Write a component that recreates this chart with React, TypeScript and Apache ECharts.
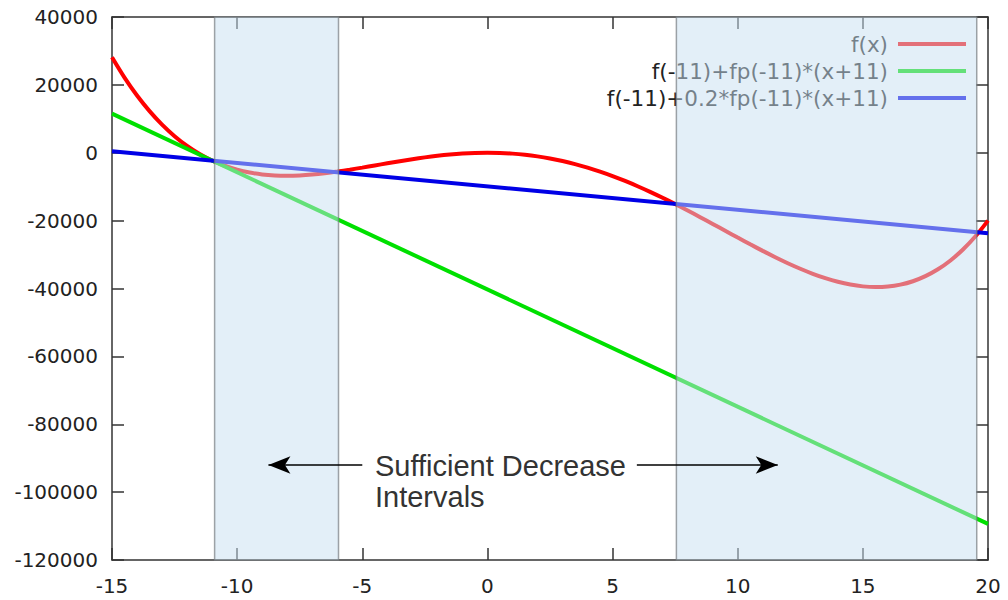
import React, { useEffect, useRef } from "react";
import * as echarts from "echarts";

// x samples and f(x) values
const xs = [
  -15, -14.5, -14, -13.5, -13, -12.5, -12, -11.5, -11, -10.5, -10, -9.5, -9, -8.5, -8, -7.5, -7, -6.5, -6, -5.5,
  -5, -4.5, -4, -3.5, -3, -2.5, -2, -1.5, -1, -0.5, 0, 0.5, 1, 1.5, 2, 2.5, 3, 3.5, 4, 4.5,
  5, 5.5, 6, 6.5, 7, 7.5, 8, 8.5, 9, 9.5, 10, 10.5, 11, 11.5, 12, 12.5, 13, 13.5, 14, 14.5,
  15, 15.5, 16, 16.5, 17, 17.5, 18, 18.5, 19, 19.5, 20,
];
const fVals = [
  28125, 22129, 16856, 12256, 8281, 4883, 2016, -364, -2299, -3831, -5000, -5844, -6399, -6701, -6784, -6680, -6419, -6031, -5544, -4984,
  -4375, -3741, -3104, -2484, -1899, -1367, -904, -524, -239, -61, 0, -64, -259, -591, -1064, -1680, -2439, -3341, -4384, -5564,
  -6875, -8311, -9864, -11524, -13279, -15117, -17024, -18984, -20979, -22991, -25000, -26984, -28919, -30781, -32544, -34180, -35659, -36951, -38024, -38844,
  -39375, -39581, -39424, -38864, -37859, -36367, -34344, -31744, -28519, -24621, -20000,
];

// tangent line endpoints
const lineX = [-15, 20];
const tangentVals = [11517, -109373];
const relaxedVals = [464, -23714];

const seriesNames = ["f(x)", "f(-11)+fp(-11)*(x+11)", "f(-11)+0.2*fp(-11)*(x+11)"];
const seriesColors = ["#ff0000", "#00e000", "#0000e6"];

// shaded intervals [start, end]
const intervals = [
  [-10.9, -5.95],
  [7.55, 19.55],
];

// annotation arrows: [from, to] at y level
const arrowY = -92000;
const arrows = [
  [-5.0, -8.75],
  [5.97, 11.6],
];

const xMin = -15, xMax = 20, xStep = 5;
const yMin = -120000, yMax = 40000, yStep = 20000;

export default function App() {
  const ref = useRef<HTMLDivElement>(null);
  useEffect(() => {
    if (!ref.current) return;
    const chart = echarts.init(ref.current, null, { renderer: "svg" });
    const font = "DejaVu Sans";
    const axisCommon = {
      type: "value",
      axisLine: { show: true, onZero: false, lineStyle: { color: "#333", width: 1.5 } },
      axisTick: { show: true, inside: true, length: 12, lineStyle: { color: "#333", width: 1.5 } },
      splitLine: { show: false },
    };
    const plain = (v: number) => String(v);
    const option: any = {
      animation: false,
      grid: { left: 112, right: 20, top: 17, bottom: 40 },
      legend: {
        orient: "vertical",
        right: 37,
        top: 28,
        align: "right",
        itemWidth: 68,
        itemHeight: 4,
        itemGap: 5,
        icon: "rect",
        z: 3,
        textStyle: { fontSize: 21.5, fontFamily: font, color: "#222", padding: [0, 5, 0, 0] },
        data: seriesNames,
      },
      xAxis: [
        {
          ...axisCommon,
          min: xMin,
          max: xMax,
          interval: xStep,
          position: "bottom",
          axisLabel: { fontSize: 20, fontFamily: font, color: "#222", margin: 16, formatter: plain },
        },
        {
          ...axisCommon,
          min: xMin,
          max: xMax,
          interval: xStep,
          position: "top",
          axisLabel: { show: false },
        },
      ],
      yAxis: [
        {
          ...axisCommon,
          min: yMin,
          max: yMax,
          interval: yStep,
          position: "left",
          axisLabel: { fontSize: 20, fontFamily: font, color: "#222", margin: 14, formatter: plain },
        },
        {
          ...axisCommon,
          min: yMin,
          max: yMax,
          interval: yStep,
          position: "right",
          axisLabel: { show: false },
        },
      ],
      series: [
        {
          name: seriesNames[0],
          type: "line",
          smooth: 0.3,
          symbol: "none",
          data: xs.map((x, i) => [x, fVals[i]]),
          lineStyle: { color: seriesColors[0], width: 4 },
          itemStyle: { color: seriesColors[0] },
        },
        {
          name: seriesNames[1],
          type: "line",
          symbol: "none",
          data: lineX.map((x, i) => [x, tangentVals[i]]),
          lineStyle: { color: seriesColors[1], width: 4 },
          itemStyle: { color: seriesColors[1] },
        },
        {
          name: seriesNames[2],
          type: "line",
          symbol: "none",
          data: lineX.map((x, i) => [x, relaxedVals[i]]),
          lineStyle: { color: seriesColors[2], width: 4 },
          itemStyle: { color: seriesColors[2] },
        },
        {
          name: "intervals",
          type: "line",
          data: [],
          z: 10,
          silent: true,
          markArea: {
            z: 10,
            silent: true,
            itemStyle: { color: "rgba(199,223,241,0.5)", borderColor: "rgba(120,125,130,0.7)", borderWidth: 1.5 },
            data: intervals.map(([a, b]) => [{ coord: [a, yMax] }, { coord: [b, yMin] }]),
          },
        },
        {
          name: "arrows",
          type: "line",
          data: [],
          z: 20,
          silent: true,
          markLine: {
            z: 20,
            silent: true,
            symbol: ["none", "arrow"],
            symbolSize: [13, 22],
            label: { show: false },
            lineStyle: { color: "#000", width: 1.5, type: "solid" },
            data: arrows.map(([a, b]) => [{ coord: [a, arrowY] }, { coord: [b, arrowY] }]),
          },
        },
      ],
      graphic: [
        {
          type: "text",
          z: 100,
          x: 375,
          y: 450,
          style: {
            text: "Sufficient Decrease\nIntervals",
            font: '29px "Liberation Sans", Arial, sans-serif',
            fill: "#333",
            lineHeight: 31,
            verticalAlign: "top",
          },
        },
      ],
    };
    chart.setOption(option);
    return () => chart.dispose();
  }, []);
  return (
    <div
      ref={ref}
      style={{ position: "absolute", left: 0, top: 0, width: 1008, height: 600, background: "#fff" }}
    />
  );
}
